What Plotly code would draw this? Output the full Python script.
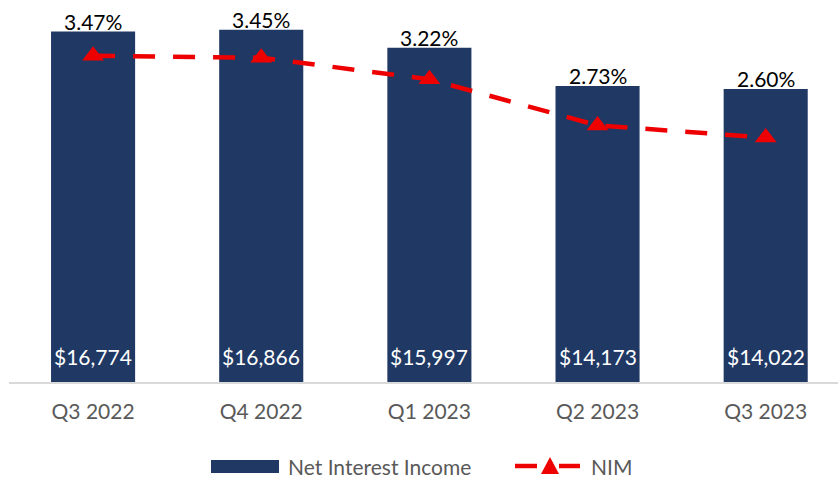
import plotly.graph_objects as go

quarters = ["Q3 2022", "Q4 2022", "Q1 2023", "Q2 2023", "Q3 2023"]
net_interest_income = [16774, 16866, 15997, 14173, 14022]
nim = [0.0347, 0.0345, 0.0322, 0.0273, 0.0260]
legend_names = ["Net Interest Income", "NIM"]

NAVY = "#203864"
RED = "#EE0000"
GREY = "#595959"
FONT = "Lato, Calibri, sans-serif"

# plot area in pixels (used for the hand-drawn legend below the chart)
PL, PR, PT, PB = 9, 838, 6, 382


def px(x):
    return (x - PL) / (PR - PL)


def py(y):
    return (PB - y) / (PB - PT)


fig = go.Figure()

# Bars
fig.add_trace(go.Bar(
    x=quarters, y=net_interest_income, name=legend_names[0],
    marker=dict(color=NAVY, line=dict(width=0)), width=0.5,
    hoverinfo="x+y", showlegend=False,
))

# NIM line on secondary axis
fig.add_trace(go.Scatter(
    x=quarters, y=nim, name=legend_names[1], yaxis="y2", mode="lines+markers",
    line=dict(color=RED, width=4.5, dash="22px,18px"),
    marker=dict(symbol="triangle-up", size=19, color=RED),
    showlegend=False,
))

# Labels: NIM above each bar, dollar value at the foot of each bar
for q, v, m in zip(quarters, net_interest_income, nim):
    fig.add_annotation(
        x=q, y=v, yref="y", text=f"{m * 100:.2f}%", showarrow=False,
        yanchor="bottom", yshift=-4, font=dict(size=21, color="black", family=FONT),
    )
    fig.add_annotation(
        x=q, y=0, yref="y", text=f"${v:,}", showarrow=False,
        yanchor="bottom", yshift=11, font=dict(size=21, color="white", family=FONT),
    )

# Legend (drawn by hand so the bar key is a wide block like the original)
fig.add_shape(type="rect", xref="paper", yref="paper",
              x0=px(211), x1=px(279), y0=py(473), y1=py(460),
              fillcolor=NAVY, line=dict(width=0))
fig.add_annotation(xref="paper", yref="paper", x=px(286), y=py(467),
                   xanchor="left", yanchor="middle", showarrow=False,
                   text=legend_names[0], font=dict(size=21, color=GREY, family=FONT))
for a, b in [(515, 537), (559, 580)]:
    fig.add_shape(type="line", xref="paper", yref="paper",
                  x0=px(a), x1=px(b), y0=py(466), y1=py(466),
                  line=dict(color=RED, width=4.5))
fig.add_shape(type="path", xref="paper", yref="paper",
              path=f"M {px(541)} {py(474)} L {px(559)} {py(474)} L {px(550)} {py(457)} Z",
              fillcolor=RED, line=dict(width=0))
fig.add_annotation(xref="paper", yref="paper", x=px(589), y=py(467),
                   xanchor="left", yanchor="middle", showarrow=False,
                   text=legend_names[1], font=dict(size=21, color=GREY, family=FONT))

fig.update_layout(
    width=838, height=478,
    margin=dict(l=PL, r=838 - PR, t=PT, b=478 - PB),
    paper_bgcolor="white", plot_bgcolor="white",
    font=dict(family=FONT, color=GREY, size=20),
    showlegend=False,
    xaxis=dict(
        range=[-0.5, 4.43], showgrid=False, zeroline=False,
        showline=True, linecolor="#D9D9D9", linewidth=2,
        ticks="", tickfont=dict(size=21, color=GREY), ticklabelstandoff=10,
    ),
    yaxis=dict(range=[0, 18000], visible=False, showgrid=False, zeroline=False),
    yaxis2=dict(range=[0, 0.04], overlaying="y", side="right",
                visible=False, showgrid=False, zeroline=False),
)

fig.write_html("out.html", config={"displayModeBar": False},
               post_script="document.body.style.margin='0';")
